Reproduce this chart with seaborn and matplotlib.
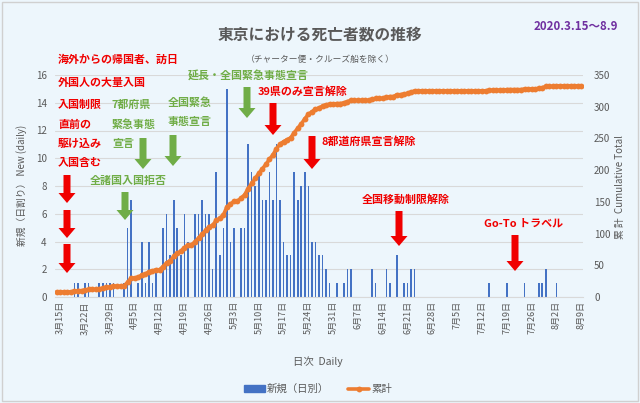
import numpy as np
import pandas as pd
import matplotlib
matplotlib.use("Agg")
import matplotlib.pyplot as plt
import seaborn as sns
from matplotlib.transforms import Affine2D
from matplotlib.patches import FancyArrow, Patch, Rectangle
from matplotlib.lines import Line2D

# ---------------- data ----------------
dates = pd.date_range("2020-03-14", "2020-08-09", freq="D")

daily = [0,
         0, 0, 0, 0, 1, 1, 0,
         1, 1, 0, 0, 1, 1, 1,
         1, 1, 0, 0, 1, 5, 7,
         0, 1, 4, 1, 4, 1, 2,
         0, 5, 6, 3, 7, 5, 3,
         6, 4, 0, 6, 6, 7, 6,
         6, 2, 9, 3, 5, 15, 4,
         5, 0, 5, 5, 11, 9, 8,
         9, 7, 7, 9, 7, 11, 7,
         4, 3, 3, 9, 7, 8, 9,
         8, 4, 4, 3, 3, 2, 1,
         0, 1, 0, 1, 2, 2, 0,
         0, 0, 0, 0, 2, 1, 0,
         0, 2, 1, 0, 3, 0, 1,
         1, 2, 2, 0, 0, 0, 0,
         0, 0, 0, 0, 0, 0, 0,
         0, 0, 0, 0, 0, 0, 0,
         0, 0, 1, 0, 0, 0, 0,
         1, 0, 0, 0, 0, 1, 0,
         0, 0, 1, 1, 2, 0, 0,
         1, 0, 0, 0, 0, 0, 0,
         0]

cumulative = [8,
              8, 8, 8, 8, 9, 10, 10,
              11, 12, 12, 12, 13, 14, 15,
              16, 17, 17, 17, 18, 23, 30,
              30, 31, 35, 36, 40, 41, 43,
              43, 48, 54, 57, 64, 69, 72,
              78, 82, 82, 87, 93, 99, 105,
              111, 113, 121, 124, 129, 142, 146,
              151, 151, 156, 161, 171, 179, 187,
              195, 202, 209, 217, 224, 234, 241,
              245, 248, 251, 259, 266, 273, 281,
              288, 292, 296, 298, 301, 303, 304,
              304, 305, 305, 306, 308, 310, 310,
              310, 310, 310, 310, 312, 313, 313,
              313, 315, 316, 316, 319, 319, 320,
              321, 323, 325, 325, 325, 325, 325,
              325, 325, 325, 325, 325, 325, 325,
              325, 325, 325, 325, 325, 325, 325,
              325, 325, 326, 326, 326, 326, 326,
              327, 327, 327, 327, 327, 328, 328,
              328, 328, 329, 330, 332, 332, 332,
              333, 333, 333, 333, 333, 333, 333,
              333]

xtick_labels = ["3月15日", "3月22日", "3月29日", "4月5日", "4月12日", "4月19日",
                "4月26日", "5月3日", "5月10日", "5月17日", "5月24日", "5月31日",
                "6月7日", "6月14日", "6月21日", "6月28日", "7月5日", "7月12日",
                "7月19日", "7月26日", "8月2日", "8月9日"]

day_index = np.arange(len(dates)) - 1   # days since 3/15
df = pd.DataFrame({"day": day_index, "daily": daily, "cum": cumulative})

# ---------------- style ----------------
sns.set_style("white")
plt.rcParams["font.family"] = ["Noto Sans CJK JP", "DejaVu Sans"]

BG = "#EDF6FC"
BLUE = "#4472C4"
ORANGE = "#ED7D31"
RED = "#F00000"
GREEN = "#70AD47"
GRAY = "#595959"

W, H = 6.4, 4.03
fig = plt.figure(figsize=(W, H), dpi=100)
fig.patch.set_facecolor(BG)
px = Affine2D().scale(1 / 100, -1 / 100).translate(0, H) + fig.dpi_scale_trans

# border
fig.add_artist(Rectangle((2, 2), 636, 399, transform=px, fill=False,
                         edgecolor="#D0D0D0", lw=1.0))

ax = fig.add_axes([55 / 640, 1 - 297 / 403, 528 / 640, 222 / 403])
ax.set_facecolor(BG)

sns.barplot(data=df, x="day", y="daily", native_scale=True, color=BLUE,
            width=0.45, errorbar=None, saturation=1, ax=ax, zorder=2,
            edgecolor="none", linewidth=0)

ax2 = ax.twinx()
sns.lineplot(data=df, x="day", y="cum", ax=ax2, color=ORANGE, lw=2.6,
             marker="o", markersize=4.2, markeredgewidth=0, legend=False)

ax.set_xlim(-1.5, 147.5)
ax.set_ylim(0, 16)
ax2.set_ylim(0, 350)
ax.set_yticks(range(0, 17, 2))
ax2.set_yticks(range(0, 351, 50))
ax.set_xticks(range(0, 148, 7))
ax.set_xticklabels(xtick_labels, rotation=90)

ax.yaxis.grid(True, color="#D9D9D9", lw=0.8, zorder=0)
ax.xaxis.grid(False)
ax.set_axisbelow(True)
for a in (ax, ax2):
    for s in a.spines.values():
        s.set_visible(False)
    a.set_xlabel("")
    a.set_ylabel("")
ax.spines["bottom"].set_visible(True)
ax.spines["bottom"].set_color("#D9D9D9")
ax.tick_params(axis="both", length=0, colors=GRAY, labelsize=7)
ax.tick_params(axis="x", labelsize=6.5, pad=3)
ax.tick_params(axis="y", pad=6)
ax2.tick_params(axis="y", length=0, colors=GRAY, labelsize=7, pad=8)

# ---------------- texts ----------------
def t(x, y, s, **kw):
    fig.text(x, y, s, transform=px, **kw)

t(320, 34, "東京における死亡者数の推移", ha="center", va="center",
  fontsize=11.3, fontweight="bold", color=GRAY)
t(320, 59, "（チャーター便・クルーズ船を除く）", ha="center", va="center",
  fontsize=6.3, color=GRAY)
t(618, 27, "2020.3.15～8.9", ha="right", va="center", fontsize=8.3,
  fontweight="bold", color="#7030A0")

t(22, 185, "新規（日割り） New (daily)", ha="center", va="center",
  rotation=90, fontsize=7, color=GRAY)
t(620, 187, "累 計  Cumulative Total", ha="center", va="center",
  rotation=90, fontsize=7, color=GRAY)
t(318, 362, "日次  Daily", ha="center", va="center", fontsize=7.5, color=GRAY)

red_kw = dict(ha="left", va="center", fontsize=7.9, fontweight="bold", color=RED)
green_kw = dict(ha="left", va="center", fontsize=7.9, fontweight="bold", color=GREEN)

for yy, s in [(60, "海外からの帰国者、訪日"), (83, "外国人の大量入国"),
              (105, "入国制限"), (125, "直前の"), (144, "駆け込み"), (163, "入国含む")]:
    t(58, yy, s, **red_kw)

for yy, s in [(105, "7都府県"), (125, "緊急事態"), (144, "宣言")]:
    t(112, yy, s, **green_kw)
for yy, s in [(103, "全国緊急"), (122, "事態宣言")]:
    t(168, yy, s, **green_kw)
t(90, 181, "全諸国入国拒否", **green_kw)
t(188, 75, "延長・全国緊急事態宣言", **green_kw)

t(258, 92, "39県のみ宣言解除", **red_kw)
t(322, 142, "8都道府県宣言解除", **red_kw)
t(362, 200, "全国移動制限解除", **red_kw)
t(484, 223, "Go-To トラベル", **red_kw)

def arrow(x, y0, y1, color):
    fig.add_artist(FancyArrow(x, y0, 0, y1 - y0, width=7, head_width=17,
                              head_length=10, length_includes_head=True,
                              transform=px, color=color, lw=0))

for x, y0, y1 in [(67, 175, 203), (67, 210, 238), (67, 244, 273),
                  (273, 103, 135), (312, 136, 169), (399, 211, 246), (515, 235, 271)]:
    arrow(x, y0, y1, RED)
for x, y0, y1 in [(125, 192, 220), (143, 138, 169), (173, 135, 166), (247, 87, 118)]:
    arrow(x, y0, y1, GREEN)

# ---------------- legend ----------------
handles = [Patch(facecolor=BLUE, edgecolor=BLUE),
           Line2D([0], [0], color=ORANGE, lw=2.6, marker="o", markersize=4.2,
                  markeredgewidth=0)]
fig.legend(handles, ["新規（日別）", "累計"], loc="center",
           bbox_to_anchor=(318 / 640, 1 - 389 / 403), ncol=2, frameon=False,
           fontsize=7.5, handlelength=2.0, handleheight=0.6,
           handletextpad=0.2, columnspacing=1.8, labelcolor=GRAY)

fig.savefig("out.png", dpi=100, facecolor=BG)
